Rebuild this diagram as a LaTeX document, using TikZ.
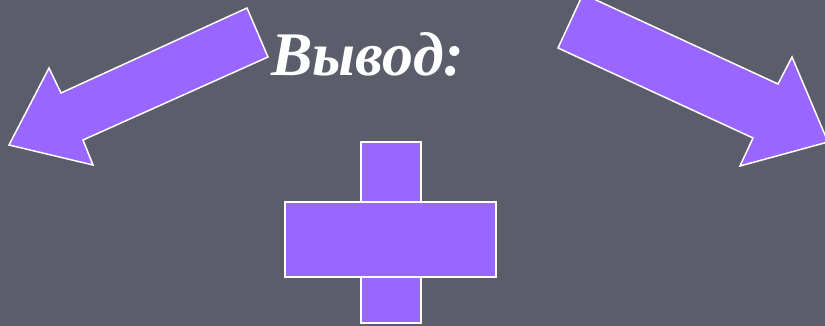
\documentclass[tikz,border=0pt]{standalone}
\usepackage{fontspec}
\setmainfont{Liberation Serif}
\usepackage{xcolor}
\usetikzlibrary{positioning}
\definecolor{slidegray}{RGB}{91,93,107}
\definecolor{arrowviolet}{RGB}{153,102,255}

\begin{document}
\begin{tikzpicture}[
    x=1pt, y=-1pt,
    violetpart/.style={fill=arrowviolet, draw=white, line width=1.5pt, line join=miter},
    title/.style={text=white, font=\bfseries\itshape\fontsize{62}{64}\selectfont}
]
\useasboundingbox (0,0) rectangle (825,326);
\fill[slidegray] (0,0) rectangle (825,326);

% arrows
\begin{scope}
\clip (0,0) rectangle (825,326);
\draw[violetpart] (247,8) -- (268,57) -- (83,140) -- (93,165) -- (9,145) -- (49,68) -- (61,93) -- cycle;
\draw[violetpart] (583,-6) -- (778,84) -- (792,57) -- (828,142) -- (740,166) -- (753,138) -- (558,48) -- cycle;
\end{scope}

\node[title, anchor=base] (heading) at (368,76) {Вывод:};

% cross
\draw[violetpart] (361,142) rectangle (421,323);
\draw[violetpart] (285,202) rectangle (496,277);

\end{tikzpicture}
\end{document}
